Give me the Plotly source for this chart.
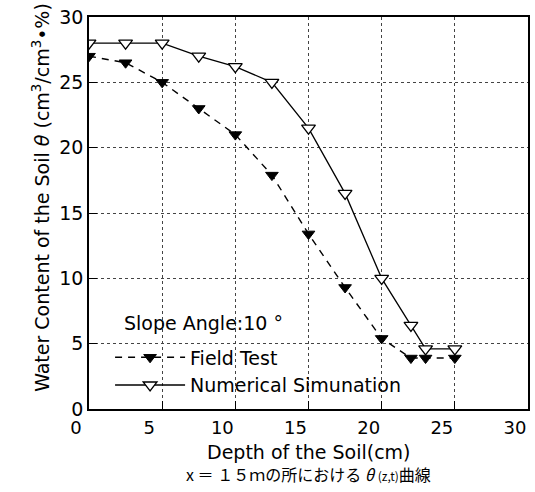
import plotly.graph_objects as go

depth = [1, 3.5, 6, 8.5, 11, 13.5, 16, 18.5, 21, 23, 24, 26]
field_test = [27, 26.5, 25, 23, 21, 17.9, 13.4, 9.3, 5.4, 3.9, 3.9, 3.9]
simulation = [28, 28, 28, 27, 26.2, 25, 21.5, 16.5, 10, 6.4, 4.6, 4.6]
x_tick_vals = [1, 6, 11, 16, 21, 26, 31]
x_tick_text = ["0", "5", "10", "15", "20", "25", "30"]
y_tick_vals = [0, 5, 10, 15, 20, 25, 30]

FONT = "DejaVu Sans, Verdana, sans-serif"

fig = go.Figure()
fig.add_trace(go.Scatter(
    x=depth, y=field_test, mode="lines+markers", name="Field Test",
    line=dict(color="black", width=1.4, dash="7px,6px"),
    marker=dict(symbol="triangle-down", size=11, color="black",
                line=dict(color="black", width=1)),
))
fig.add_trace(go.Scatter(
    x=depth, y=simulation, mode="lines+markers", name="Numerical Simunation",
    line=dict(color="black", width=1.3),
    marker=dict(symbol="triangle-down", size=12, color="white",
                line=dict(color="black", width=1.3)),
))

fig.update_layout(
    width=535, height=492,
    margin=dict(l=89, r=5, t=17, b=83),
    paper_bgcolor="white", plot_bgcolor="white",
    font=dict(family=FONT, size=19, color="black"),
    showlegend=True,
    legend=dict(
        x=0.048, y=0.18, xanchor="left", yanchor="top",
        bgcolor="rgba(0,0,0,0)",
        font=dict(size=19),
        itemwidth=70, tracegroupgap=0,
    ),
    xaxis=dict(
        range=[1, 31], tickvals=x_tick_vals, ticktext=x_tick_text,
        ticklabelshift=-13, ticklabelstandoff=2,
        showgrid=True, gridcolor="#444", griddash="dot", gridwidth=1,
        showline=True, linecolor="black", linewidth=1.5, mirror=True,
        ticks="inside", ticklen=8, tickcolor="black",
        zeroline=False, tickfont=dict(size=18),
    ),
    yaxis=dict(
        range=[0, 30], tickvals=y_tick_vals,
        showgrid=True, gridcolor="#444", griddash="dot", gridwidth=1,
        showline=True, linecolor="black", linewidth=1.5, mirror=True,
        ticks="inside", ticklen=8, tickcolor="black",
        zeroline=False, tickfont=dict(size=19),
    ),
    annotations=[
        dict(text="Water Content of the Soil <i>θ</i> (cm<sup>3</sup>/cm<sup>3</sup>•%)",
             xref="paper", yref="paper", x=-0.14, y=0.54, textangle=-90,
             showarrow=False, font=dict(size=19)),
        dict(text="Depth of the Soil(cm)",
             xref="paper", yref="paper", x=0.5, y=-0.11,
             xanchor="center", yanchor="middle",
             showarrow=False, font=dict(size=19)),
        dict(text="Slope Angle:10 °",
             xref="paper", yref="paper", x=0.075, y=0.219,
             xanchor="left", yanchor="middle",
             showarrow=False, font=dict(size=19)),
        dict(text="x ＝ １５ｍの所における <i>θ</i> <span style='font-size:12px'>(z,t)</span>曲線",
             xref="paper", yref="paper", x=0.5, y=-0.165, yanchor="middle",
             showarrow=False,
             font=dict(size=16, family="Noto Sans CJK JP, DejaVu Sans, sans-serif")),
    ],
)

fig.write_html("out.html")
